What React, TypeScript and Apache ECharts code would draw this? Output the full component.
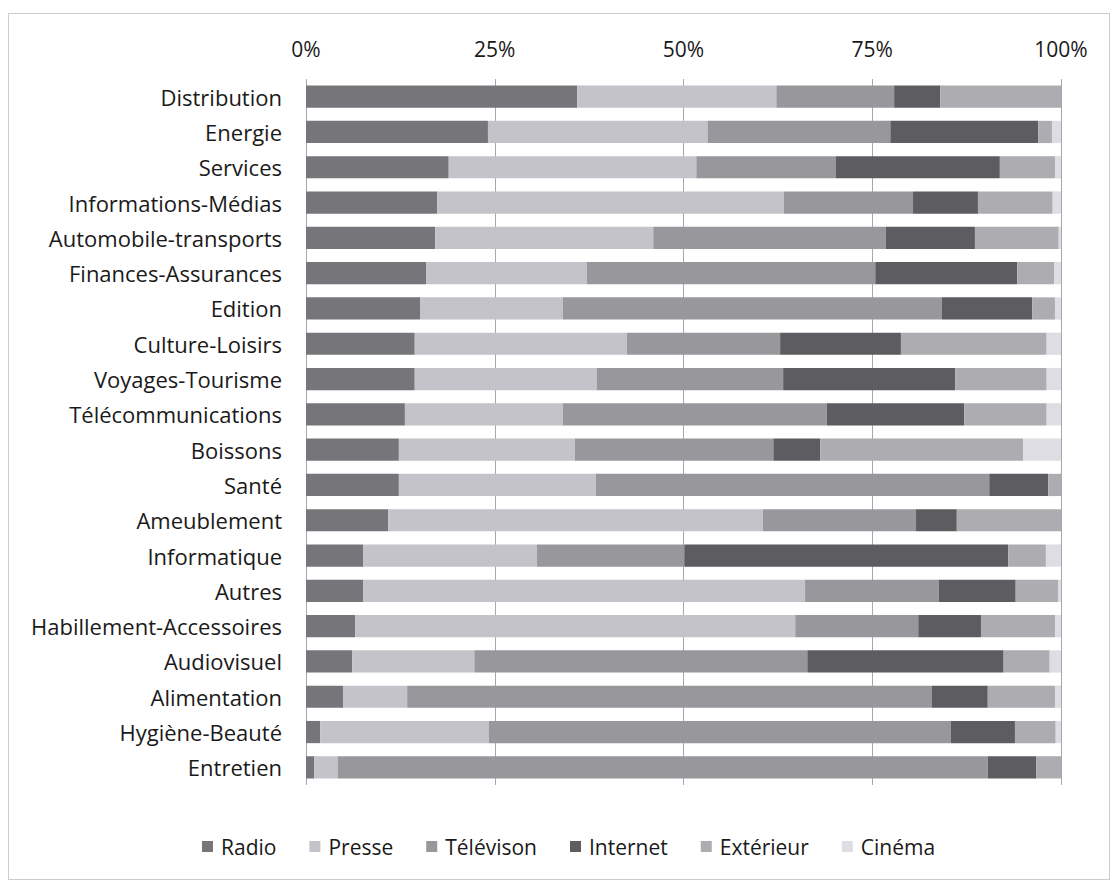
import React, { useEffect, useRef } from "react";
import * as echarts from "echarts";

const categories = [
  "Distribution", "Energie", "Services", "Informations-Médias", "Automobile-transports",
  "Finances-Assurances", "Edition", "Culture-Loisirs", "Voyages-Tourisme", "Télécommunications",
  "Boissons", "Santé", "Ameublement", "Informatique", "Autres",
  "Habillement-Accessoires", "Audiovisuel", "Alimentation", "Hygiène-Beauté", "Entretien",
];

const seriesNames = ["Radio", "Presse", "Télévison", "Internet", "Extérieur", "Cinéma"];

const radio = [35.9, 24.1, 18.9, 17.4, 17.1, 15.9, 15.1, 14.4, 14.4, 13.1, 12.3, 12.3, 10.9, 7.6, 7.6, 6.5, 6.1, 4.9, 1.9, 1.1];
const presse = [26.4, 29.1, 32.8, 45.9, 28.9, 21.3, 18.9, 28.1, 24.1, 20.9, 23.3, 26.1, 49.6, 23.0, 58.5, 58.3, 16.2, 8.5, 22.3, 3.1];
const television = [15.6, 24.2, 18.5, 17.1, 30.8, 38.2, 50.2, 20.3, 24.7, 35.0, 26.3, 52.1, 20.3, 19.5, 17.7, 16.3, 44.1, 69.5, 61.2, 86.1];
const internet = [6.1, 19.6, 21.7, 8.6, 11.8, 18.8, 12.0, 16.0, 22.8, 18.2, 6.2, 7.8, 5.4, 42.9, 10.2, 8.3, 26.0, 7.4, 8.5, 6.4];
const exterieur = [16.0, 1.8, 7.3, 9.9, 11.1, 4.9, 3.0, 19.3, 12.1, 10.9, 26.9, 1.7, 13.8, 5.0, 5.6, 9.8, 6.1, 8.9, 5.4, 3.3];
const cinema = [0, 1.2, 0.8, 1.1, 0.3, 0.9, 0.8, 1.9, 1.9, 1.9, 5.0, 0, 0, 2.0, 0.4, 0.8, 1.5, 0.8, 0.7, 0];

const xTicks = [0, 25, 50, 75, 100];

const colors = ["#767579", "#c4c3c9", "#98979c", "#5d5c60", "#adacb1", "#dedde3"];

export default function App() {
  const ref = useRef<HTMLDivElement>(null);
  useEffect(() => {
    if (!ref.current) return;
    const chart = echarts.init(ref.current, undefined, { renderer: "svg" });
    const font = "'Open Sans', 'Noto Sans', sans-serif";
    const values = [radio, presse, television, internet, exterieur, cinema];
    chart.setOption({
      animation: false,
      textStyle: { fontFamily: font },
      color: colors,
      graphic: [
        {
          type: "rect",
          shape: { x: 8.5, y: 13.5, width: 1101, height: 866 },
          style: { fill: "none", stroke: "#9a98a0", lineWidth: 1, lineDash: [1, 1] },
          silent: true,
        },
      ],
      legend: {
        left: 197,
        top: 831,
        itemWidth: 11,
        itemHeight: 11,
        itemGap: 33,
        icon: "rect",
        textStyle: { fontSize: 21, color: "#1a1a1a", fontFamily: font, padding: [0, 0, 0, 3] },
        data: seriesNames,
      },
      grid: { left: 306, right: 50, top: 79, bottom: 96 },
      xAxis: {
        type: "value",
        position: "top",
        min: 0,
        max: 100,
        interval: 25,
        axisLine: { show: false },
        axisTick: { show: false },
        axisLabel: {
          margin: 20,
          fontSize: 21,
          color: "#1a1a1a",
          fontFamily: font,
          formatter: (v: number) => (xTicks.includes(v) ? v + "%" : ""),
        },
        splitLine: { show: true, lineStyle: { color: "#a9a7ae", width: 1 } },
      },
      yAxis: {
        type: "category",
        inverse: true,
        data: categories,
        axisLine: { show: false },
        axisTick: { show: false },
        axisLabel: { margin: 24, fontSize: 22, color: "#1a1a1a", fontFamily: font },
      },
      series: seriesNames.map((name, i) => ({
        name,
        type: "bar",
        stack: "total",
        barWidth: "63%",
        data: values[i],
        itemStyle: { color: colors[i] },
      })),
    });
    return () => chart.dispose();
  }, []);
  return (
    <div
      ref={ref}
      style={{ position: "fixed", left: 0, top: 0, width: 1111, height: 881, background: "#fff" }}
    />
  );
}
